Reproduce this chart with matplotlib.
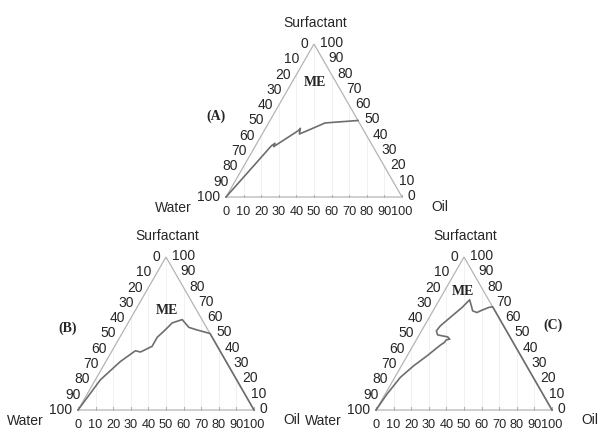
import matplotlib
matplotlib.use("Agg")
import matplotlib.pyplot as plt
import numpy as np

# ---- data (ternary percentages: surfactant, oil) ----
ticks = [0, 10, 20, 30, 40, 50, 60, 70, 80, 90, 100]
left_labels = [str(t) for t in ticks]            # top -> bottom
right_labels = [str(100 - t) for t in ticks]     # top -> bottom
bottom_labels = [str(t) for t in ticks]          # left -> right

A_surf = [0, 33.6, 35.1, 32.9, 43.4, 44.9, 41.2, 42.7, 48.4, 50.0]
A_oil = [0, 9.1, 10.3, 10.6, 19.4, 19.8, 21.1, 23.5, 32.1, 50.0]

B_surf = [0, 19.7, 31.7, 38.7, 37.9, 41.6, 47.5, 52.5, 56.9, 59.1, 54.0, 52.3, 50.0, 0]
B_oil = [0, 2.85, 8.25, 13.25, 16.55, 21.3, 21.25, 23.45, 25.05, 29.65, 36.0, 41.55, 50.0, 100]

C_surf = [0, 10.4, 21.3, 28.9, 35.4, 42.4, 44.1, 45.9, 46.3, 47.8, 48.5, 49.1, 51.7, 55.0,
          61.5, 67.0, 72.0, 68.0, 64.8, 63.7, 64.8, 67.0, 67.5, 0]
C_oil = [0, 1.05, 3.15, 6.95, 11.3, 15.35, 16.75, 17.05, 18.75, 16.8, 13.25, 10.45, 8.45, 9.05,
         12.45, 15.4, 17.2, 20.2, 22.5, 25.55, 26.9, 30.5, 32.5, 100]

panels = ["(A)", "(B)", "(C)"]

# ---- layout (pixel frame) ----
fig = plt.figure(figsize=(6.02, 4.31), dpi=100)
ax = fig.add_axes([0, 0, 1, 1])
ax.set_xlim(0, 602)
ax.set_ylim(431, 0)
ax.axis("off")

W, H = 176.0, 153.0
frames = [(226.0, 198.0), (78.0, 411.0), (376.0, 411.0)]
curves = [(A_surf, A_oil), (B_surf, B_oil), (C_surf, C_oil)]
panel_pos = [(216, 116), (68, 328), (553, 325)]
me_pos = [(315, 82), (167, 311), (463, 292)]

SANS = "Liberation Sans"
SERIF = "Liberation Serif"
TXT = "#262626"
EDGE = "#b4b4b4"
CURVE = "#6e6e6e"


def tern(x0, y0, surf, oil):
    s = np.asarray(surf, float) / 100.0
    o = np.asarray(oil, float) / 100.0
    return x0 + W * (o + s / 2.0), y0 - H * s


for (x0, y0), (cs, co), pp, mp, pname in zip(frames, curves, panel_pos, me_pos, panels):
    # faint vertical grid lines inside the triangle
    for t in ticks[1:-1]:
        bx, _ = tern(x0, y0, [0], [t])
        top_s = 2 * min(t, 100 - t)
        ax.plot([bx[0], bx[0]], [y0, y0 - H * top_s / 100.0],
                color="#f1f1f1", lw=0.7, zorder=1)
    # triangle
    tx, ty = tern(x0, y0, [0, 0, 100, 0], [0, 100, 0, 0])
    ax.plot(tx, ty, color=EDGE, lw=0.9, zorder=2, solid_joinstyle="miter")
    # base ticks
    for t in ticks:
        bx, _ = tern(x0, y0, [0], [t])
        ax.plot([bx[0], bx[0]], [y0, y0 - 2.5], color=EDGE, lw=0.8, zorder=2)
    # curve
    px, py = tern(x0, y0, cs, co)
    ax.plot(px, py, color=CURVE, lw=1.2, zorder=3)

    # left axis labels (water)
    for i, lab in enumerate(left_labels):
        s = 100 - ticks[i]
        lx, ly = tern(x0, y0, [s], [0])
        ax.text(lx[0] - 6, ly[0] - 1, lab, ha="right", va="center", fontsize=10,
                family=SANS, color=TXT)
    # right axis labels (surfactant)
    for i, lab in enumerate(right_labels):
        s = 100 - ticks[i]
        rx, ry = tern(x0, y0, [s], [100 - s])
        ax.text(rx[0] + 6, ry[0] - 2, lab, ha="left", va="center", fontsize=10,
                family=SANS, color=TXT)
    # bottom labels (oil)
    for i, lab in enumerate(bottom_labels):
        bx, _ = tern(x0, y0, [0], [ticks[i]])
        ax.text(bx[0], y0 + 14, lab, ha="center", va="center", fontsize=9.2,
                family=SANS, color=TXT)

    ax.text(x0 + W / 2 + 1, y0 - H - 22, "Surfactant", ha="center", va="center",
            fontsize=10, family=SANS, color=TXT)
    ax.text(x0 - 34, y0 + 10, "Water", ha="right", va="center", fontsize=10,
            family=SANS, color=TXT)
    ax.text(x0 + W + 29, y0 + 9, "Oil", ha="left", va="center", fontsize=10,
            family=SANS, color=TXT)
    ax.text(mp[0], mp[1], "ME", ha="center", va="center", fontsize=10,
            family=SERIF, fontweight="bold", color=TXT)
    ax.text(pp[0], pp[1], pname, ha="center", va="center", fontsize=10,
            family=SERIF, fontweight="bold", color=TXT)

fig.savefig("out.png", dpi=100)
